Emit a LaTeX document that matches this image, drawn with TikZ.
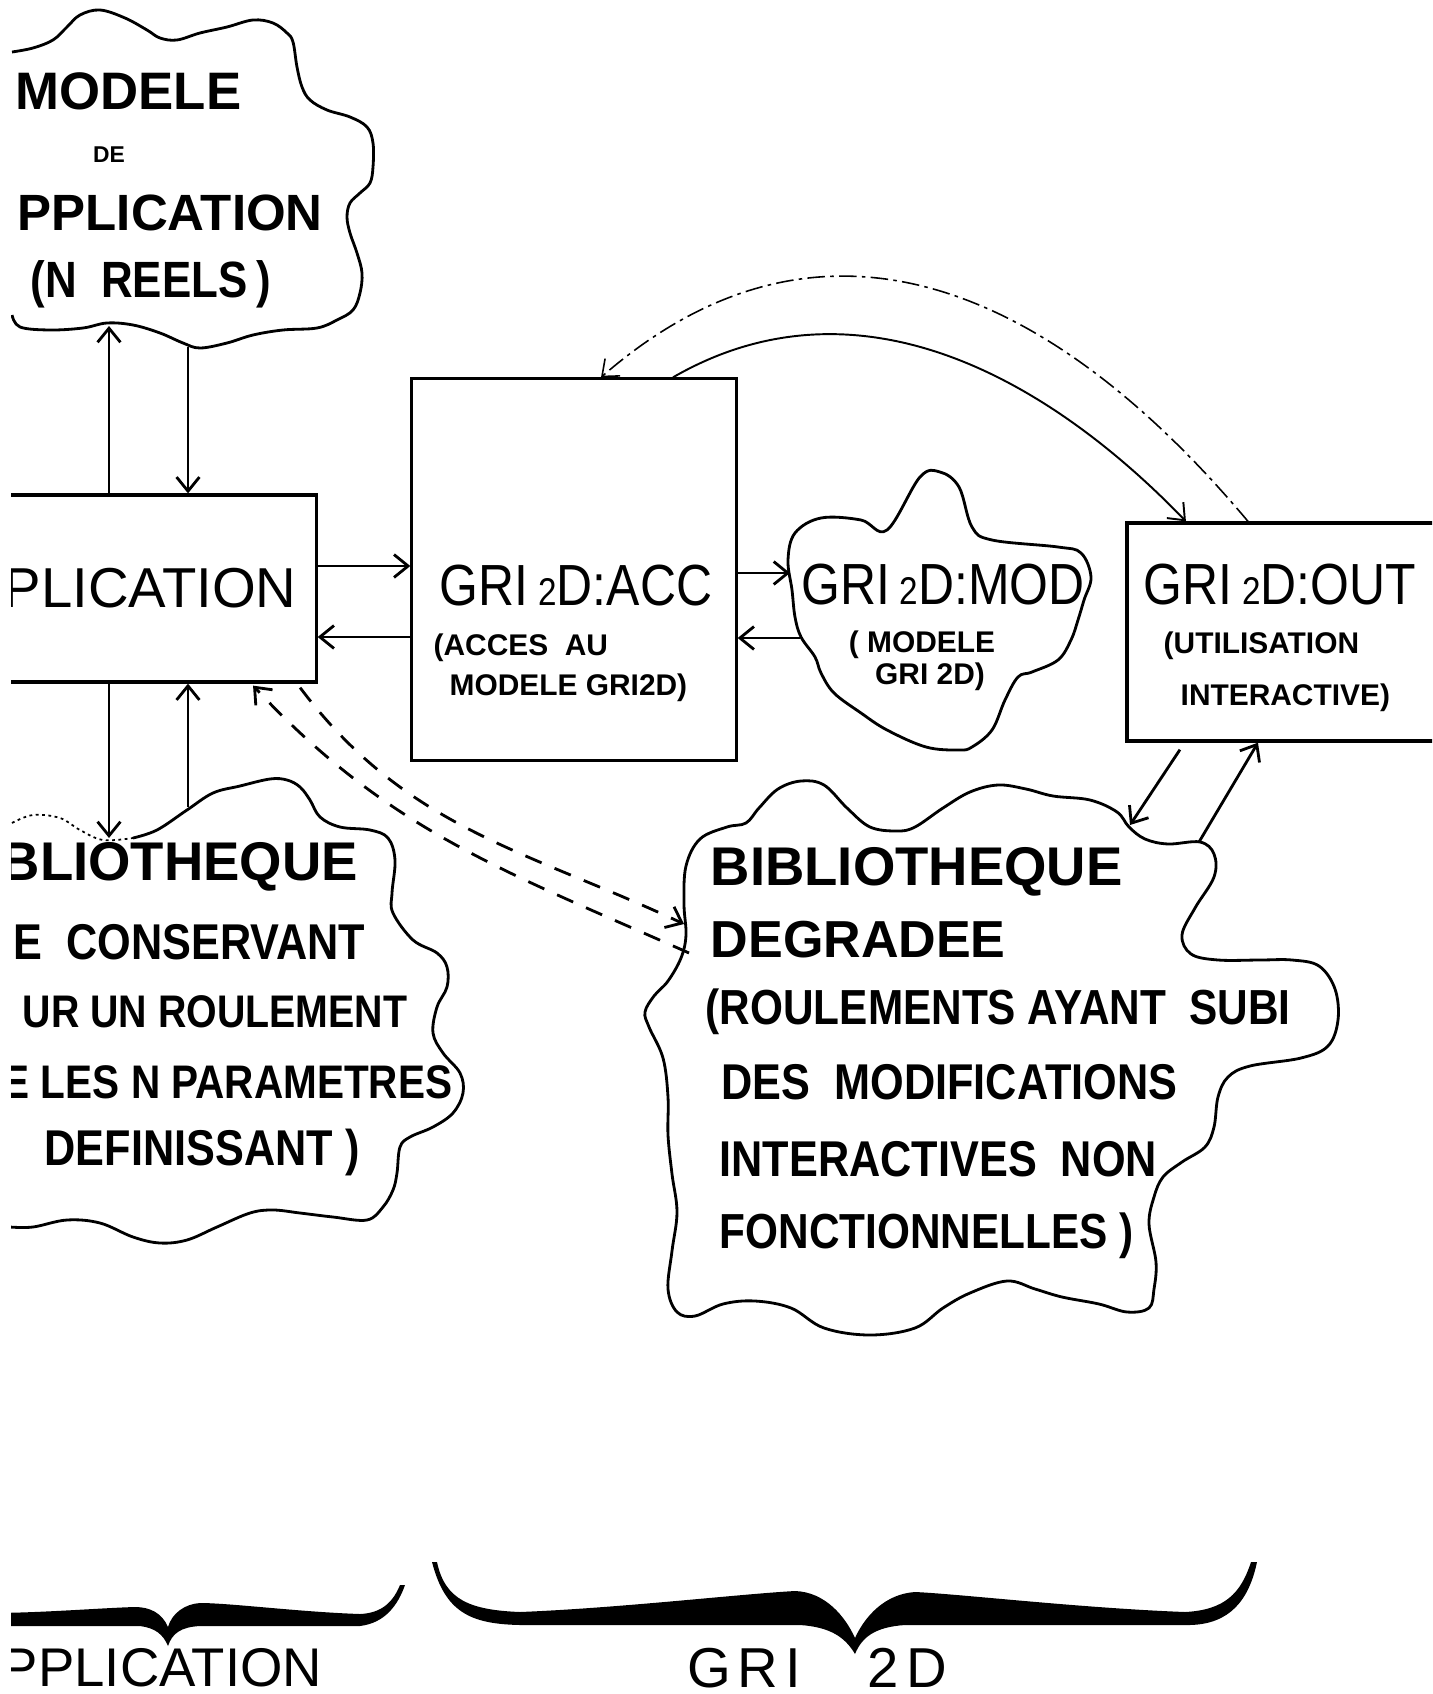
\documentclass[tikz,border=0pt]{standalone}
\usepackage{fontspec}
\setmainfont{Liberation Sans}
\newfontfamily\narrowfont[FakeStretch=0.86]{Liberation Sans}
\newfontfamily\widefont[LetterSpace=12]{Liberation Sans}
\usetikzlibrary{arrows.meta}
\newcommand{\fsz}[1]{\fontsize{#1}{#1}\selectfont}
\newcommand{\smalltwo}{{\fsz{11}2}}

\begin{document}
\begin{tikzpicture}[x=0.01cm,y=-0.01cm,>={Straight Barb[length=4pt,width=6.5pt]},
  box/.style={draw,line width=0.9pt,inner sep=0pt},
  lbl/.style={inner sep=0pt},
  sublbl/.style={lbl,font=\bfseries\fsz{8.5}},
  biglbl/.style={lbl,font=\narrowfont\fsz{16.5}},
  liblbl/.style={lbl,anchor=west,font=\narrowfont\bfseries\fsz{#1}},
  cloudline/.style={line width=0.8pt,line join=round},
  arr/.style={->,line width=0.8pt},
  dasharr/.style={->,line width=0.8pt,dash pattern=on 5pt off 4pt},
  arcline/.style={->,line width=0.55pt},
  dotarc/.style={->,line width=0.45pt,dash pattern=on 5pt off 1.5pt on 1pt off 1.5pt}]

\useasboundingbox (0,0) rectangle (1432,1694);
\clip (11,0) rectangle (1432,1694);

% boxes
\node[box,minimum width=3.32cm,minimum height=1.87cm,font=\fsz{16}] (app) at (150,588.5) {PLICATION};
\node[box,minimum width=3.24cm,minimum height=3.81cm] (acc) at (574,569.5) {};
\node[box,minimum width=3.43cm,minimum height=2.18cm] (out) at (1298.5,632) {};

\node[biglbl] (acctxt) at (576,586) {GRI\,\smalltwo D:ACC};
\node[sublbl,anchor=west] (accsub1) at (433,648) {(ACCES~~AU};
\node[sublbl,anchor=west] (accsub2) at (449,688) {MODELE GRI2D)};

\node[biglbl] (modtxt) at (943,585) {GRI\,\smalltwo D:MOD};
\node[sublbl] (modsub1) at (922,645) {( MODELE};
\node[sublbl] (modsub2) at (930,677) {GRI 2D)};

\node[biglbl] (outtxt) at (1280,585) {GRI\,\smalltwo D:OUT};
\node[sublbl,anchor=west] (outsub1) at (1163,646) {(UTILISATION};
\node[sublbl,anchor=west] (outsub2) at (1180,698) {INTERACTIVE)};

% clouds
\draw[cloudline] plot[smooth,tension=0.6] coordinates {(12,52) (33,48) (53,40) (67,27) (80,15)
  (100,10) (125,18) (147,30) (160,38) (177,40) (200,33) (227,27) (253,20) (273,23) (287,33)
  (293,42) (297,67) (302,87) (310,100) (327,110) (350,117) (367,127) (373,143) (373,167)
  (370,183) (360,193) (350,203) (347,217) (350,233) (357,253) (362,273) (360,293) (353,310)
  (337,320) (317,328) (283,330) (253,335) (227,343) (200,348) (183,343) (160,333) (133,325)
  (107,323) (83,328) (50,330) (20,327) (12,315)};
\node[lbl,anchor=west,font=\bfseries\fsz{15}] (mat1) at (15,91) {MODELE};
\node[lbl,font=\bfseries\fsz{6.5}] (mat2) at (109,155) {DE};
\node[lbl,anchor=west,font=\bfseries\fsz{14.5}] (mat3) at (17,213) {PPLICATION};
\node[liblbl=14.5] (mat4) at (30,284) {(N~~REELS\,)};

\draw[cloudline,densely dotted,line width=0.5pt] plot[smooth,tension=0.6] coordinates {(12,823)
  (33,815) (60,818) (80,830) (103,840) (133,838)};
\draw[cloudline] plot[smooth,tension=0.6] coordinates {(133,838) (157,830) (187,810) (213,793)
  (240,786) (270,779) (287,780) (300,787) (310,800) (320,817) (340,827) (370,830) (388,838)
  (395,860) (392,893) (393,913) (413,940) (437,953) (447,967) (447,987) (437,1007) (433,1033)
  (443,1053) (460,1073) (463,1093) (453,1113) (433,1127) (410,1137) (400,1147) (397,1173)
  (393,1190) (383,1207) (367,1220) (333,1217) (300,1213) (273,1210) (250,1213) (217,1227)
  (187,1240) (160,1243) (133,1237) (100,1223) (67,1220) (33,1227) (10,1227)};
\node[lbl,anchor=west,font=\bfseries\fsz{15.5}] (bct1) at (0,867) {BLIOTHEQUE};
\node[liblbl=14.3] (bct2) at (13,942) {E~~CONSERVANT};
\node[liblbl=13] (bct3) at (22,1012) {UR UN ROULEMENT};
\node[liblbl=13.4] (bct4) at (2,1082) {E LES N PARAMETRES};
\node[liblbl=14.3] (bct5) at (44,1152) {DEFINISSANT )};

\draw[cloudline] plot[smooth cycle,tension=0.6] coordinates {(795,533) (821,518) (861,520)
  (887,530) (920,477) (940,472) (959,487) (972,527) (992,540) (1058,547) (1081,553) (1091,577)
  (1084,600) (1078,620) (1071,640) (1058,660) (1032,672) (1018,677) (1005,700) (992,730)
  (972,747) (959,750) (926,747) (887,730) (861,713) (834,693) (821,673) (815,657) (801,637)
  (795,617) (792,590) (788,560)};

\draw[cloudline] plot[smooth cycle,tension=0.6] coordinates {(684,904) (686,866) (700,839)
  (727,827) (746,823) (759,808) (778,789) (801,781) (824,785) (847,808) (870,827) (897,831)
  (915,827) (943,808) (970,792) (998,785) (1026,789) (1053,796) (1090,800) (1117,812)
  (1129,827) (1145,839) (1168,844) (1200,842) (1214,854) (1214,877) (1195,908) (1182,935)
  (1191,954) (1218,960) (1260,960) (1292,960) (1319,966) (1335,989) (1338,1020) (1328,1046)
  (1301,1058) (1250,1066) (1228,1077) (1218,1097) (1214,1127) (1205,1147) (1182,1162)
  (1163,1177) (1154,1197) (1149,1224) (1156,1262) (1154,1289) (1149,1308) (1127,1312)
  (1099,1304) (1062,1297) (1035,1289) (1007,1281) (970,1293) (943,1308) (915,1328) (870,1335)
  (824,1328) (791,1308) (755,1301) (723,1304) (695,1316) (677,1312) (668,1289) (672,1251)
  (677,1212) (672,1174) (668,1135) (668,1097) (663,1058) (649,1027) (645,1012) (654,996)
  (668,981) (681,958) (686,935)};
\node[lbl,anchor=west,font=\bfseries\fsz{15.5}] (bdt1) at (710,872) {BIBLIOTHEQUE};
\node[lbl,anchor=west,font=\bfseries\fsz{14.8}] (bdt2) at (710,940) {DEGRADEE};
\node[liblbl=14] (bdt3) at (705,1012) {(ROULEMENTS AYANT~~SUBI};
\node[liblbl=14.3] (bdt4) at (721,1082) {DES~~MODIFICATIONS};
\node[liblbl=14.3] (bdt5) at (719,1159) {INTERACTIVES~~NON};
\node[liblbl=14] (bdt6) at (719,1236) {FONCTIONNELLES )};

% cloud ends of the connectors
\coordinate (ma1) at (109,326);
\coordinate (ma2) at (188,347);
\coordinate (bc1) at (109,838);
\coordinate (bc2) at (188,807);
\coordinate (md1) at (790,573);
\coordinate (md2) at (800,638);
\coordinate (bd1) at (1130,825);
\coordinate (bd2) at (1199,842);
\coordinate (bd3) at (684,924);
\coordinate (bd4) at (689,953);
\coordinate (rowa) at (0,566);
\coordinate (rowb) at (0,637);

% connectors
\draw[arr] (ma1 |- app.north) -- (ma1);
\draw[arr] (ma2) -- (ma2 |- app.north);
\draw[arr] (bc1 |- app.south) -- (bc1);
\draw[arr] (bc2) -- (bc2 |- app.south);
\draw[arr] (app.east |- rowa) -- (acc.west |- rowa);
\draw[arr] (acc.west |- rowb) -- (app.east |- rowb);
\draw[arr] (acc.east |- md1) -- (md1);
\draw[arr] (md2) -- (acc.east |- md2);
\draw[arcline] ([xshift=0.99cm]acc.north) to[out=30,in=134] ([xshift=-1.125cm]out.north);
\draw[dotarc] ([xshift=-0.505cm]out.north) to[out=130,in=41,looseness=1.15] ([xshift=0.27cm]acc.north);
\draw[arr] ([xshift=-1.185cm,yshift=-0.07cm]out.south) -- (bd1);
\draw[arr] (bd2) -- ([xshift=-0.405cm]out.south);
\draw[dasharr] ([xshift=1.5cm,yshift=-0.04cm]app.south) to[out=-53,in=155] (bd3);
\draw[dasharr] (bd4) to[out=156,in=-47] ([xshift=1.03cm,yshift=-0.02cm]app.south);

% braces
\fill (-10,1626) -- (140,1626) .. controls (155,1628) and (163,1634) .. (168,1646)
  .. controls (172,1634) and (180,1627) .. (200,1626) -- (360,1626)
  .. controls (385,1623) and (398,1605) .. (405,1585) -- (400,1585)
  .. controls (393,1602) and (382,1613) .. (360,1614) .. controls (300,1612) and (230,1603) .. (200,1603)
  .. controls (185,1604) and (172,1613) .. (168,1627) .. controls (162,1613) and (150,1607) .. (135,1607)
  .. controls (100,1608) and (40,1613) .. (-10,1613) -- cycle;
\fill (432,1562) .. controls (445,1612) and (470,1624) .. (520,1625) -- (800,1625)
  .. controls (830,1627) and (845,1637) .. (855,1654) .. controls (862,1637) and (875,1627) .. (905,1625)
  -- (1190,1625) .. controls (1230,1624) and (1249,1600) .. (1257,1562) -- (1251,1562)
  .. controls (1241,1593) and (1225,1610) .. (1185,1612) .. controls (1080,1608) and (960,1594) .. (915,1592)
  .. controls (885,1594) and (865,1616) .. (855,1638) .. controls (845,1616) and (825,1592) .. (795,1591)
  .. controls (740,1594) and (620,1608) .. (520,1612) .. controls (470,1610) and (445,1600) .. (437,1562)
  -- cycle;
\node[lbl,font=\fsz{15.5}] (leftname) at (162,1668) {PPLICATION};
\node[lbl,font=\widefont\fsz{16}] (rightname) at (817,1668) {GRI~~~2D};

\end{tikzpicture}
\end{document}
